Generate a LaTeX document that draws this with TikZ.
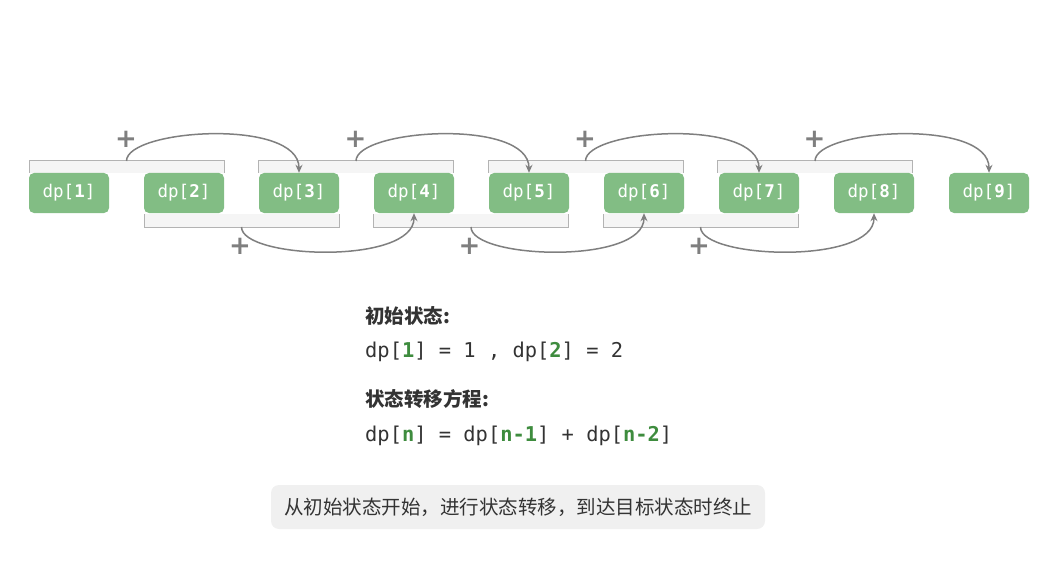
\documentclass[tikz,border=0pt]{standalone}
\usepackage{fontspec}
\setmainfont{Noto Sans CJK SC}
\newfontfamily\cjk{Noto Sans CJK SC}
\newfontfamily\monof{DejaVu Sans Mono}
\newfontfamily\plusf{DejaVu Sans}
\usetikzlibrary{arrows.meta,calc}
\definecolor{boxgreen}{HTML}{82BD84}
\definecolor{txtgreen}{HTML}{3E8C3E}
\definecolor{txtdark}{HTML}{333333}
\definecolor{arrgray}{HTML}{7F7F7F}
\definecolor{brline}{HTML}{B3B3B3}
\definecolor{brfill}{HTML}{F5F5F5}
\definecolor{notefill}{HTML}{F0F0F0}
\begin{document}
\begin{tikzpicture}[x=1pt,y=-1pt,
  dpbox/.style={fill=boxgreen,rounded corners=5pt,minimum width=80pt,minimum height=40pt,inner sep=0pt,text=white,font=\monof\fontsize{17.5}{20}\selectfont},
  brk/.style={draw=brline,line width=1pt},
  conn/.style={draw=arrgray,line width=1.5pt,-{Stealth[length=8pt,width=7pt]}},
  plus/.style={text=arrgray,font=\plusf\bfseries\fontsize{26}{26}\selectfont,inner sep=0pt},
  hdr/.style={anchor=west,text=txtdark,inner sep=0pt,font=\cjk\bfseries\fontsize{19.5}{22}\selectfont},
  eq/.style={anchor=west,text=txtdark,inner sep=0pt,font=\monof\fontsize{20.4}{24}\selectfont}
]
\useasboundingbox (0,0) rectangle (1059,564);
% brackets (drawn first)
\foreach \a/\b in {29/224,258/453,488/683,717/912}{
  \fill[brfill] (\a,161) rectangle (\b,173);
  \draw[brk] (\a,173) -- (\a,161) -- (\b,161) -- (\b,173);
}
\foreach \a/\b in {144/339,373/568,603/798}{
  \fill[brfill] (\a,214) rectangle (\b,227);
  \draw[brk] (\a,214) -- (\a,227) -- (\b,227) -- (\b,214);
}
% nodes
\foreach \i in {1,...,9}{
  \node[dpbox] (n\i) at ({69+115*(\i-1)},193) {dp[\textbf{\i}]};
}
% top arcs
\foreach \k/\t in {1/3,2/5,3/7,4/9}{
  \coordinate (t\k) at ({126.5+229.5*(\k-1)},161);
  \node[plus] (pt\k) at ({126+229.5*(\k-1)},139) {+};
  \draw[conn] (t\k) .. controls ($(t\k)+(0,-32)$) and ($(n\t.north)+(0,-55)$) .. (n\t.north);
}
% bottom arcs
\foreach \k/\t in {1/4,2/6,3/8}{
  \coordinate (b\k) at ({241.5+229.5*(\k-1)},227);
  \node[plus] (pb\k) at ({240+229.5*(\k-1)},246) {+};
  \draw[conn] (b\k) .. controls ($(b\k)+(0,32)$) and ($(n\t.south)+(0,52)$) .. (n\t.south);
}
% text block
\node[hdr] (h1) at (365,316) {初始状态:};
\node[eq] (e1) at (365,352) {dp[\textcolor{txtgreen}{\bfseries 1}] = 1 , dp[\textcolor{txtgreen}{\bfseries 2}] = 2};
\node[hdr] (h2) at (365,399) {状态转移方程:};
\node[eq] (e2) at (365,436) {dp[\textcolor{txtgreen}{\bfseries n}] = dp[\textcolor{txtgreen}{\bfseries n-1}] + dp[\textcolor{txtgreen}{\bfseries n-2}]};
% note
\node[fill=notefill,rounded corners=8pt,minimum width=494pt,minimum height=44pt,inner sep=0pt,text=txtdark,font=\cjk\fontsize{19.5}{22}\selectfont] (note) at (518,507) {从初始状态开始，进行状态转移，到达目标状态时终止};
\end{tikzpicture}
\end{document}
